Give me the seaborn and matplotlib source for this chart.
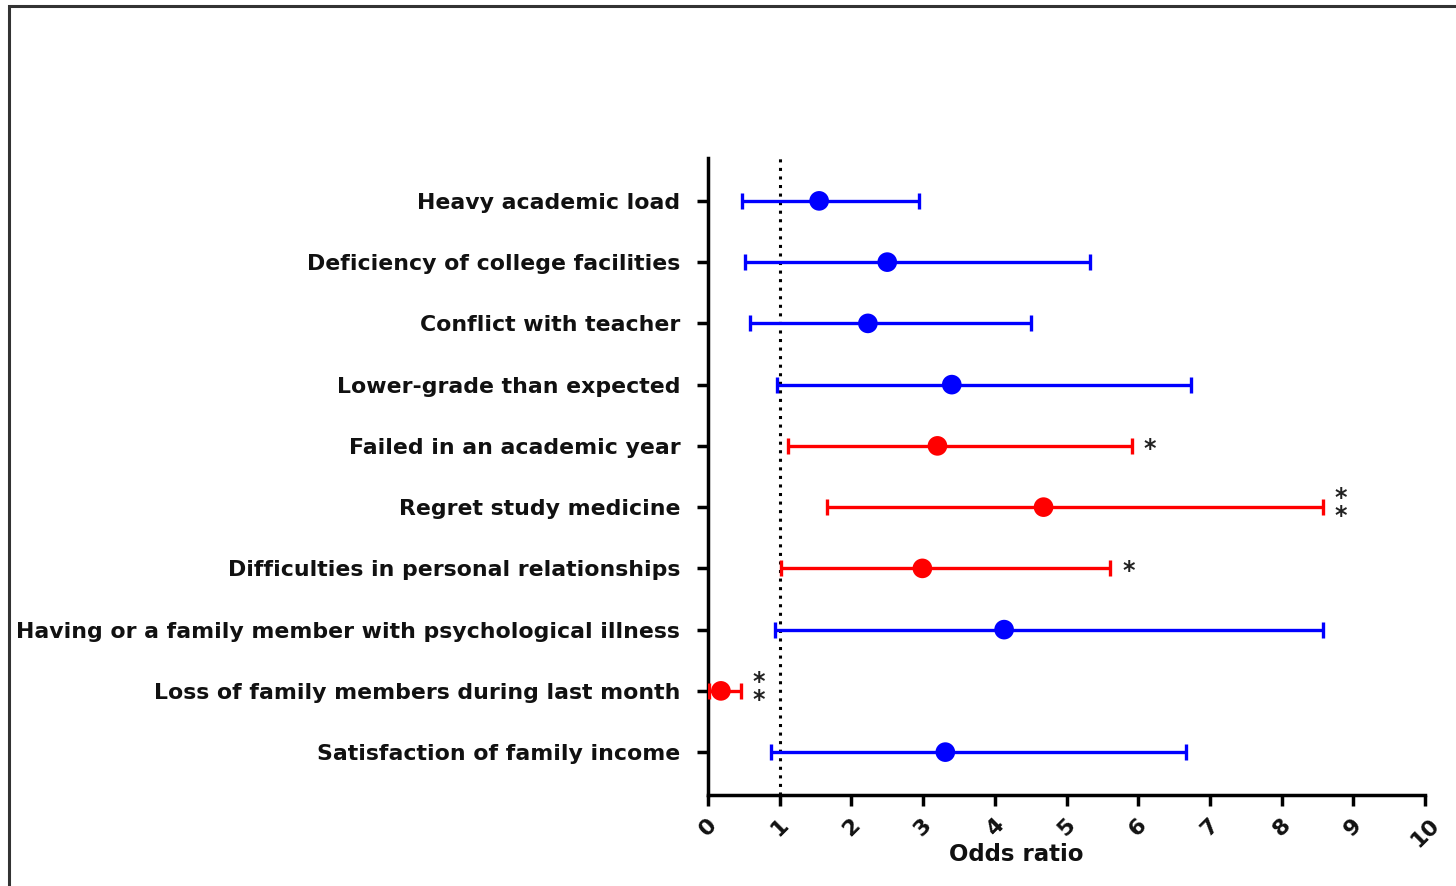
import matplotlib
matplotlib.use("Agg")
import matplotlib.pyplot as plt
import seaborn as sns
import pandas as pd
import numpy as np
from matplotlib.patches import Rectangle

factors = [
    "Heavy academic load",
    "Deficiency of college facilities",
    "Conflict with teacher",
    "Lower-grade than expected",
    "Failed in an academic year",
    "Regret study medicine",
    "Difficulties in personal relationships",
    "Having or a family member with psychological illness",
    "Loss of family members during last month",
    "Satisfaction of family income",
]
odds_ratio = [1.55, 2.50, 2.23, 3.40, 3.20, 4.68, 2.99, 4.13, 0.18, 3.31]
ci_lower = [0.47, 0.51, 0.58, 0.96, 1.11, 1.66, 1.02, 0.94, 0.02, 0.88]
ci_upper = [2.94, 5.33, 4.50, 6.73, 5.91, 8.58, 5.61, 8.58, 0.46, 6.66]
significance = ["", "", "", "", "*", "**", "*", "", "**", ""]
x_ticks = [0, 1, 2, 3, 4, 5, 6, 7, 8, 9, 10]

df = pd.DataFrame({
    "factor": factors,
    "or": odds_ratio,
    "lo": ci_lower,
    "hi": ci_upper,
    "sig": significance,
})
df["y"] = np.arange(len(df))
df["group"] = np.where(df["sig"] != "", "significant", "ns")
palette = {"significant": "#ff0000", "ns": "#0000ff"}

sns.set_theme(style="ticks")
plt.rcParams["font.family"] = ["DejaVu Sans"]
plt.rcParams["font.weight"] = "bold"

fig = plt.figure(figsize=(14.56, 8.86), dpi=100)
ax = fig.add_axes([708 / 1456, 1 - 795 / 886, 717 / 1456, (795 - 158) / 886])

for _, r in df.iterrows():
    c = palette[r["group"]]
    ax.errorbar(r["or"], r["y"], xerr=[[r["or"] - r["lo"]], [r["hi"] - r["or"]]],
                fmt="none", ecolor=c, elinewidth=2.4, capsize=6, capthick=2.4, zorder=3)

sns.scatterplot(data=df, x="or", y="y", hue="group", palette=palette, s=200,
                edgecolor="none", legend=False, ax=ax, zorder=4, clip_on=False)

ax.axvline(1, color="black", linestyle=(0, (1, 1.8)), linewidth=2.2, zorder=2)

for _, r in df.iterrows():
    if r["sig"] == "*":
        ax.text(r["hi"] + 0.17, r["y"] + 0.05, "*", ha="left", va="center",
                fontsize=17, fontweight="bold", color="#222222")
    elif r["sig"] == "**":
        ax.text(r["hi"] + 0.16, r["y"], "*\n*", ha="left", va="center",
                fontsize=17, fontweight="bold", color="#222222", linespacing=0.7)

ax.set_xlim(0, 10)
ax.set_ylim(len(df) - 0.3, -0.7)
ax.set_xticks(x_ticks)
ax.set_xticklabels([str(t) for t in x_ticks], rotation=45, ha="center",
                   fontsize=16, fontweight="bold")
ax.set_yticks(df["y"])
ax.set_yticklabels(df["factor"], fontsize=15.8, fontweight="bold")
ax.tick_params(axis="both", direction="out", length=8, width=2.5, color="black",
               labelcolor="#111111")
ax.tick_params(axis="y", pad=12)
ax.tick_params(axis="x", pad=6)
ax.set_xlabel("Odds ratio", fontsize=16.5, fontweight="bold", color="#111111")
ax.set_ylabel("")
ax.xaxis.set_label_coords(0.43, -0.075)
sns.despine(ax=ax)
for s in ["left", "bottom"]:
    ax.spines[s].set_linewidth(2.5)
    ax.spines[s].set_color("black")

fig.patches.append(Rectangle((9 / 1456, -0.05), 1.1, 1 - 6 / 886 + 0.05,
                             transform=fig.transFigure, fill=False,
                             edgecolor="#333333", linewidth=2.2))

fig.savefig("out.png", dpi=100, facecolor="white")
